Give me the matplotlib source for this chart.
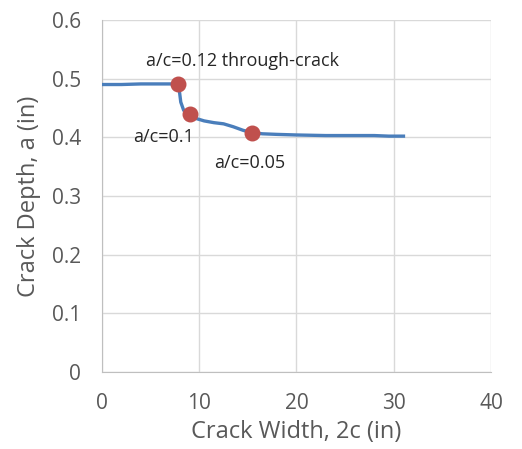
import matplotlib
matplotlib.use('Agg')
import matplotlib.pyplot as plt

# curve
crack_width = [0, 2, 4, 6, 7.5, 7.8, 7.95, 8.1, 8.4, 9.0, 9.7, 10.5, 11.5, 12.5, 13.5, 14.5, 15.4, 16.5, 18, 20, 23, 26, 28, 29.5, 31]
crack_depth = [0.490, 0.490, 0.491, 0.491, 0.491, 0.489, 0.480, 0.460, 0.446, 0.437, 0.432, 0.428, 0.425, 0.423, 0.418, 0.412, 0.408, 0.406, 0.405, 0.404, 0.403, 0.403, 0.403, 0.402, 0.402]

# marked points
pt_x = [7.8, 9.0, 15.4]
pt_y = [0.491, 0.440, 0.407]
pt_labels = ['a/c=0.12 through-crack', 'a/c=0.1', 'a/c=0.05']

txt = '#595959'
plt.rcParams['font.family'] = ['Open Sans', 'DejaVu Sans']

fig = plt.figure(figsize=(5.22, 4.49), dpi=100)
ax = fig.add_axes([0.1954, 0.1715, 0.7452, 0.784])

ax.plot(crack_width, crack_depth, color='#4a7ebb', lw=2.4, zorder=3)
ax.scatter(pt_x, pt_y, s=110, color='#c0504d', edgecolors='#c0504d', zorder=4)

# label offsets in pixels
offs = [(65, 23), (-26, -23), (-2, -30)]
for lab, x, y, o in zip(pt_labels, pt_x, pt_y, offs):
    ax.annotate(lab, (x, y), xytext=o, textcoords='offset pixels',
                ha='center', va='center', fontsize=13, color='#262626')

ax.set_xlim(0, 40)
ax.set_ylim(0, 0.6)
ax.set_xticks([0, 10, 20, 30, 40])
ax.set_yticks([0, 0.1, 0.2, 0.3, 0.4, 0.5, 0.6])
ax.set_yticklabels(['0', '0.1', '0.2', '0.3', '0.4', '0.5', '0.6'])
ax.grid(True, color='#d9d9d9', lw=1)
ax.set_axisbelow(True)
for s in ['top', 'right']:
    ax.spines[s].set_visible(False)
for s in ['left', 'bottom']:
    ax.spines[s].set_color('#bfbfbf')
ax.tick_params(axis='y', length=0, labelsize=15, colors=txt, pad=15)
ax.tick_params(axis='x', length=0, labelsize=15, colors=txt, pad=15)
ax.set_xlabel('Crack Width, 2c (in)', fontsize=17, color=txt, va='center')
ax.set_ylabel('Crack Depth, a (in)', fontsize=17, color=txt, va='center')
ax.xaxis.set_label_coords(0.5, -0.17)
ax.yaxis.set_label_coords(-0.188, 0.5)

fig.savefig('out.png', dpi=100)
